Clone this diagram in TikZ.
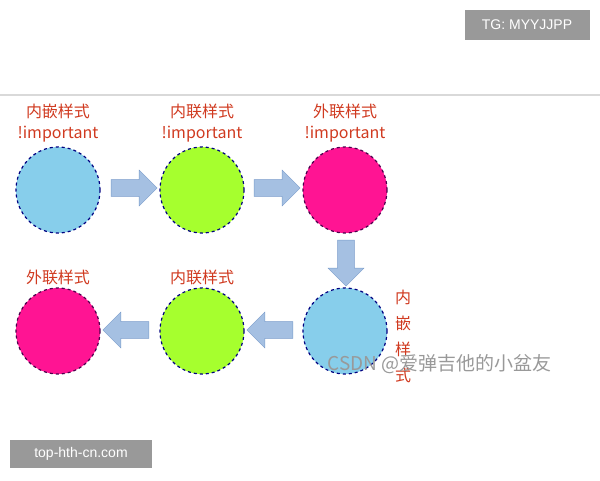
\documentclass[tikz,border=0pt]{standalone}
\usepackage{fontspec}
\setmainfont{Liberation Sans}
\newfontfamily\cjk{Noto Sans CJK SC}
\usetikzlibrary{shapes.arrows,shapes.geometric}
\definecolor{sky}{HTML}{87CEEB}
\definecolor{lime}{HTML}{A6FF2E}
\definecolor{pinkc}{HTML}{FF1493}
\definecolor{redt}{HTML}{D03A20}
\definecolor{arrf}{HTML}{A5C0E2}
\definecolor{arrd}{HTML}{7A9CCB}
\tikzset{
 ball/.style={ellipse, minimum width=84pt, minimum height=86pt, draw=blue!50!black, dashed, line width=1.2pt, inner sep=0},
 lbl/.style={text=redt, font=\cjk\fontsize{16}{21}\selectfont, align=center},
 blk/.style={single arrow, draw=arrd, fill=arrf, minimum height=46pt, minimum width=36pt, single arrow head extend=6pt, inner sep=5pt},
 tag/.style={fill=black!40, text=white, font=\fontsize{14}{16}\selectfont, inner sep=6pt}
}
\begin{document}
\begin{tikzpicture}[x=1pt,y=-1pt]
\useasboundingbox (0,0) rectangle (600,480);
\draw[black!15, line width=1.5pt] (0,95) -- (600,95);
\node[tag, minimum width=125pt, minimum height=30pt] (tg) at (527,25) {TG: MYYJJPP};
\node[tag, minimum width=142pt, minimum height=28pt] (site) at (81,454) {top-hth-cn.com};
\node[ball, fill=sky] (a) at (58,190) {};
\node[ball, fill=lime] (b) at (202,190) {};
\node[ball, fill=pinkc, draw=blue!50!red!60!black] (c) at (345,190) {};
\node[ball, fill=sky] (d) at (345,331) {};
\node[ball, fill=lime] (e) at (202,331) {};
\node[ball, fill=pinkc, draw=blue!50!red!60!black] (f) at (58,331) {};
\node[lbl] (la) at (58,123) {内嵌样式\\!important};
\node[lbl] (lb) at (202,123) {内联样式\\!important};
\node[lbl] (lc) at (345,123) {外联样式\\!important};
\node[lbl] (le) at (202,277) {内联样式};
\node[lbl] (lf) at (58,277) {外联样式};
\node[lbl, font=\cjk\fontsize{16}{26}\selectfont] (ld) at (403,336) {内\\嵌\\样\\式};
\node[blk] (ab) at (130,188) {};
\node[blk] (bc) at (273,188) {};
\node[blk, shape border rotate=270] (cd) at (346,259) {};
\node[blk, shape border rotate=180] (de) at (274,330) {};
\node[blk, shape border rotate=180] (ef) at (130,330) {};
\node[text=black!40, font=\cjk\fontsize{19}{21}\selectfont, anchor=west] (wm) at (324,364) {CSDN @爱弹吉他的小盆友};
\end{tikzpicture}
\end{document}
